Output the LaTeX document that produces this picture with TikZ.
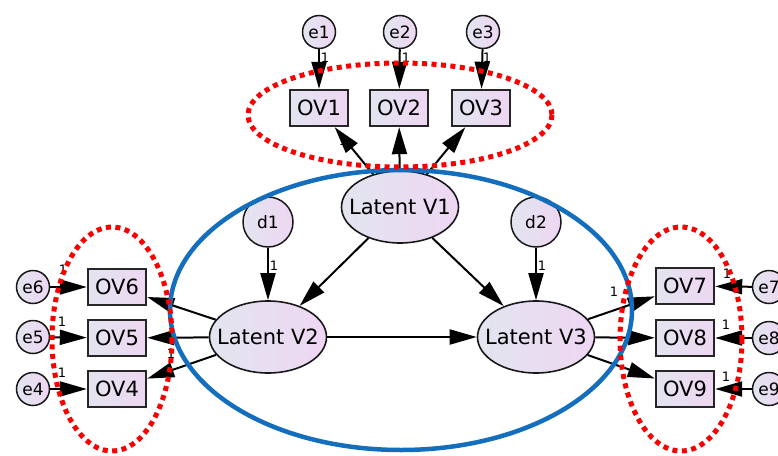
\documentclass[tikz,border=0pt]{standalone}
\usepackage{fontspec}
\setmainfont{DejaVu Sans}
\usetikzlibrary{arrows.meta,shapes.geometric}
\definecolor{fillA}{RGB}{226,229,240}
\definecolor{fillB}{RGB}{238,214,242}
\definecolor{blueE}{RGB}{20,110,190}
\definecolor{redE}{RGB}{250,0,0}
\tikzset{
  obs/.style={draw=black!85,line width=2.4pt,left color=fillA,right color=fillB,minimum width=58pt,minimum height=36pt,inner sep=0pt,font=\fontsize{21}{21}\selectfont},
  err/.style={circle,draw=black!90,line width=1.5pt,left color=fillA,right color=fillB,minimum size=33pt,inner sep=0pt,font=\fontsize{17}{17}\selectfont},
  dist/.style={circle,draw=black!90,line width=1.5pt,left color=fillA,right color=fillB,minimum size=50pt,inner sep=0pt,font=\fontsize{17}{17}\selectfont},
  lat/.style={ellipse,draw=black!90,line width=1.6pt,left color=fillA,right color=fillB,minimum width=117pt,minimum height=72pt,inner sep=0pt,font=\fontsize{21}{21}\selectfont},
  conn/.style={line width=2pt,-{Triangle[length=27pt,width=15pt]}},
  one/.style={font=\fontsize{13}{13}\selectfont,inner sep=0pt},
  redring/.style={draw=redE,line width=5pt,dash pattern=on 5pt off 4.5pt},
  bluering/.style={draw=blueE,line width=4.5pt}
}
\newcommand{\zw}[1]{\makebox[0pt]{\raisebox{-0.35em}[0pt][0pt]{#1}}}
\begin{document}
\begin{tikzpicture}[x=1pt,y=-1pt]
\useasboundingbox (0,0) rectangle (778,455);
\fill[white] (0,0) rectangle (778,455);
% observed
\node[obs] (ov1) at (319,108) {OV1};
\node[obs] (ov2) at (399,108) {OV2};
\node[obs] (ov3) at (481,108) {OV3};
\node[obs] (ov6) at (117,287) {OV6};
\node[obs] (ov5) at (117,338) {OV5};
\node[obs] (ov4) at (117,389) {OV4};
\node[obs] (ov7) at (685,286) {OV7};
\node[obs] (ov8) at (685,338) {OV8};
\node[obs] (ov9) at (685,389) {OV9};
% errors
\node[err] (e1) at (319,32) {e1};
\node[err] (e2) at (400,32) {e2};
\node[err] (e3) at (483,32) {e3};
\node[err] (e6) at (33,287) {e6};
\node[err] (e5) at (33,337) {e5};
\node[err] (e4) at (33,389) {e4};
\node[err] (e7) at (769,287) {e7};
\node[err] (e8) at (769,338) {e8};
\node[err] (e9) at (769,389) {e9};
% disturbances
\node[dist] (d1) at (268,222) {d1};
\node[dist] (d2) at (536,222) {d2};
% latents
\node[lat] (v1) at (400,207) {\zw{Latent V1}};
\node[lat] (v2) at (268,337) {\zw{Latent V2}};
\node[lat] (v3) at (536,337) {\zw{Latent V3}};
% connectors
\draw[conn] (e1) -- (ov1);
\draw[conn] (e2) -- (ov2);
\draw[conn] (e3) -- (ov3);
\draw[conn] (v1) -- (ov1);
\draw[conn] (v1) -- (ov2);
\draw[conn] (v1) -- (ov3);
\draw[conn] (v1) -- (v2);
\draw[conn] (v1) -- (v3);
\draw[conn] (d1) -- (v2);
\draw[conn] (d2) -- (v3);
\draw[conn] (v2) -- (v3);
\draw[conn] (v2) -- (ov6);
\draw[conn] (v2) -- (ov5);
\draw[conn] (v2) -- (ov4);
\draw[conn] (v3) -- (ov7);
\draw[conn] (v3) -- (ov8);
\draw[conn] (v3) -- (ov9);
\draw[conn] (e6) -- (ov6);
\draw[conn] (e5) -- (ov5);
\draw[conn] (e4) -- (ov4);
\draw[conn] (e7) -- (ov7);
\draw[conn] (e8) -- (ov8);
\draw[conn] (e9) -- (ov9);
% labels "1"
\node[one] (l1) at (325,58) {1};
\node[one] (l2) at (406,58) {1};
\node[one] (l3) at (487,58) {1};
\node[one] (l4) at (343,141) {1};
\node[one] (l5) at (274,266) {1};
\node[one] (l6) at (542,266) {1};
\node[one] (l7) at (63,270) {1};
\node[one] (l8) at (62,322) {1};
\node[one] (l9) at (62,373) {1};
\node[one] (l10) at (171,354) {1};
\node[one] (l11) at (614,292) {1};
\node[one] (l12) at (727,274) {1};
\node[one] (l13) at (726,325) {1};
\node[one] (l14) at (726,377) {1};
% highlight rings
\draw[bluering] (401,310) ellipse [x radius=231, y radius=140];
\draw[redring] (400,115) ellipse [x radius=152, y radius=52];
\draw[redring] (112,339) ellipse [x radius=60, y radius=112];
\draw[redring] (681,339) ellipse [x radius=61, y radius=112];
\end{tikzpicture}
\end{document}
